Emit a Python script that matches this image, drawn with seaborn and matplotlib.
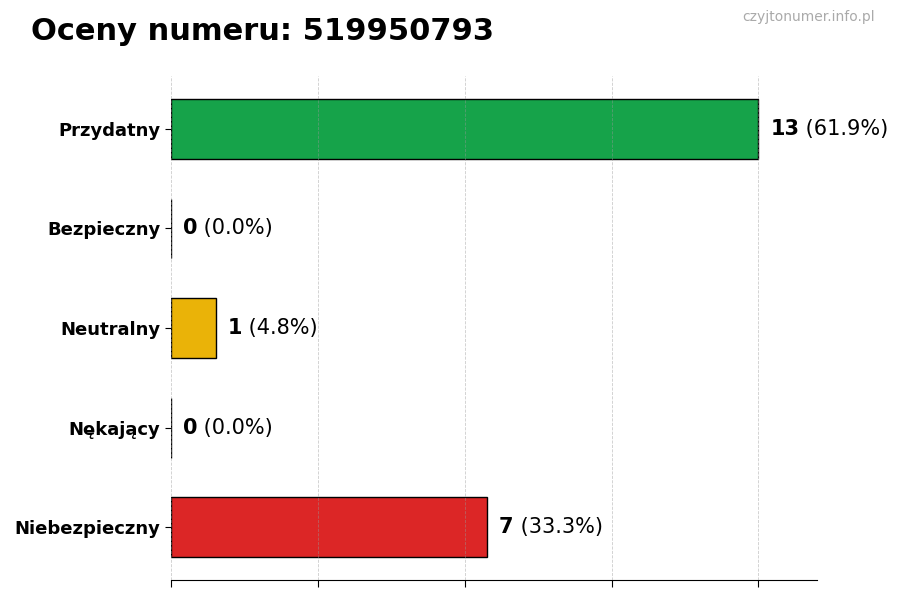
import seaborn as sns
import matplotlib.pyplot as plt
import numpy as np
import pandas as pd

categories = ["Przydatny", "Bezpieczny", "Neutralny", "Nękający", "Niebezpieczny"]
counts = [13, 0, 1, 0, 7]
bar_colors = ["#16a34a", "#2563eb", "#eab308", "#f97316", "#dc2626"]
title = "Oceny numeru: 519950793"
watermark = "czyjtonumer.info.pl"

total = sum(counts)
df = pd.DataFrame({"category": categories, "count": counts})
palette = dict(zip(categories, bar_colors))

fig = plt.figure(figsize=(9, 6), dpi=100)
ax = fig.add_axes([0.19, 0.0333, 0.718, 0.84])

sns.barplot(ax=ax, data=df, x="count", y="category", hue="category",
            palette=palette, orient="h", width=0.6, legend=False,
            edgecolor="black", linewidth=1, saturation=1)

max_val = max(counts)
ax.set_xlim(0, max_val * 1.1)
ax.set_ylim(len(categories) - 0.47, -0.53)
ax.set_xticks(np.linspace(0, max_val, 5))
ax.set_xticklabels([])
ax.set(xlabel="", ylabel="")
ax.grid(axis="x", linestyle="--", color="#999999", linewidth=0.6, alpha=0.5)
ax.set_axisbelow(False)
ax.spines["top"].set_visible(False)
ax.spines["right"].set_visible(False)
ax.spines["left"].set_visible(False)
ax.tick_params(axis="y", length=4, labelsize=13)
ax.tick_params(axis="x", length=5)
for lbl in ax.get_yticklabels():
    lbl.set_fontweight("bold")

off = max_val * 0.02
for i, c in enumerate(counts):
    pct = 100 * c / total
    t = ax.text(c + off, i, str(c), fontsize=15, fontweight="bold",
                va="center", ha="left")
    ax.annotate(f" ({pct:.1f}%)", xy=(1, 0), xycoords=t, fontsize=15,
                va="bottom", ha="left")

fig.text(0.034, 0.948, title, fontsize=22, fontweight="bold", va="center")
fig.text(0.972, 0.972, watermark, fontsize=10, color="#aaaaaa",
         ha="right", va="center")

plt.savefig("out.png", dpi=100)
plt.close("all")
